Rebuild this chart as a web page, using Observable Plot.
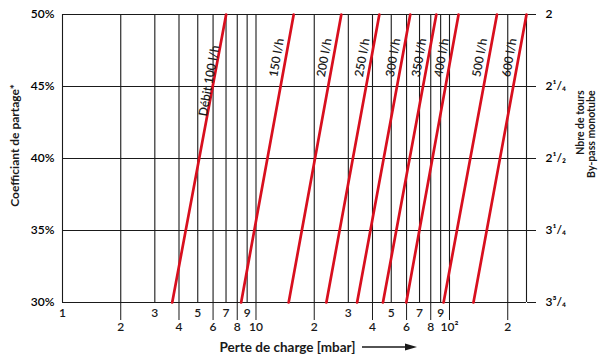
<!DOCTYPE html>
<html>
<head>
<meta charset="utf-8">
<script src="https://cdn.jsdelivr.net/npm/d3@7"></script>
<script src="https://cdn.jsdelivr.net/npm/@observablehq/plot@0.6"></script>
<style>
  html, body { margin: 0; padding: 0; background: #fff; }
  #chart { width: 600px; height: 356px; }
</style>
</head>
<body>
<div id="chart"></div>
<script>
// ---- data ----
const flows = [100, 150, 200, 250, 300, 350, 400, 500, 600];           // l/h
const flowLabels = ["Débit 100 l/h", "150 l/h", "200 l/h", "250 l/h", "300 l/h", "350 l/h", "400 l/h", "500 l/h", "600 l/h"];
const dpAt30 = [3.69, 8.38, 14.75, 23.1, 33.3, 45.3, 59.8, 93.2, 133];   // mbar at 30 %
const dpAt50 = [7.01, 15.66, 27.6, 43.4, 62.7, 85.5, 111.4, 175.9, 250]; // mbar at 50 %

const gridX = [1, 2, 3, 4, 5, 6, 7, 8, 9, 10, 20, 30, 40, 50, 60, 70, 80, 90, 100, 200, 250];
const yTicks = [30, 35, 40, 45, 50];
const yRightLabels = ["3³/₄", "3¹/₄", "2¹/₂", "2¹/₄", "2"];
const oddTicks = [1, 3, 5, 7, 9, 30, 50, 70, 90];
const oddLabels = ["1", "3", "5", "7", "9", "3", "5", "7", "9"];
const evenTicks = [2, 4, 6, 8, 10, 20, 40, 60, 80, 100, 200];
const evenLabels = ["2", "4", "6", "8", "10", "2", "4", "6", "8", "10²", "2"];
const rightTitle = ["Nbre de tours", "By-pass monotube"];

// ---- derived tables ----
const lineRows = flows.flatMap((f, i) => [
  {flow: f, dp: dpAt30[i], pct: 30},
  {flow: f, dp: dpAt50[i], pct: 50}
]);
const labelPct = 47;
const labelRows = flows.map((f, i) => {
  const t = (labelPct - 30) / 20;
  const lx = Math.exp(Math.log(dpAt30[i]) + t * (Math.log(dpAt50[i]) - Math.log(dpAt30[i])));
  return {flow: f, text: flowLabels[i], dp: lx, pct: labelPct - (i === 0 ? 1.6 : 0)};
});
const oddRows = oddTicks.map((v, i) => ({v, label: oddLabels[i]}));
const evenRows = evenTicks.map((v, i) => ({v, label: evenLabels[i]}));

const FONT = "Lato, 'Open Sans', sans-serif";
const RED = "#d80f1e";
const INK = "#1a1a1a";

const svg = Plot.plot({
  width: 600,
  height: 356,
  marginLeft: 62,
  marginRight: 74,
  marginTop: 14,
  marginBottom: 54,
  style: {fontFamily: FONT, fontSize: "12px", background: "#fff", overflow: "visible"},
  x: {type: "log", domain: [1, 250]},
  y: {domain: [30, 50]},
  marks: [
    Plot.ruleX(gridX, {stroke: INK, strokeWidth: 1.1}),
    Plot.ruleY(yTicks, {stroke: INK, strokeWidth: 1.1}),
    Plot.axisY({anchor: "left", ticks: yTicks, tickSize: 0, tickPadding: 8,
      tickFormat: d => d + "%", label: null, fontWeight: 600, fontSize: 12}),
    Plot.axisY({anchor: "right", ticks: yTicks, tickSize: 9, tickPadding: 10,
      tickFormat: d => yRightLabels[yTicks.indexOf(d)], label: null, stroke: INK,
      fontWeight: 600, fontSize: 12}),
    // long ticks below the frame for the second label row
    Plot.axisX({anchor: "bottom", ticks: evenTicks, tickSize: 18, text: null,
      label: null, stroke: INK}),
    // staggered tick labels
    Plot.text(oddRows, {x: "v", text: "label", frameAnchor: "bottom", lineAnchor: "middle",
      textAnchor: "middle", dy: 11, fontWeight: 600, fontSize: 12, fill: INK}),
    Plot.text(evenRows, {x: "v", text: "label", frameAnchor: "bottom", lineAnchor: "middle",
      textAnchor: "middle", dy: 25, fontWeight: 600, fontSize: 12, fill: INK}),
    Plot.line(lineRows, {x: "dp", y: "pct", z: "flow", stroke: RED, strokeWidth: 2.7}),
    Plot.text(labelRows, {x: "dp", y: "pct", text: "text", rotate: -80, dx: -9,
      fontSize: 12, fontWeight: 600, fill: INK}),
    Plot.text(["Coefficiant de partage*"], {frameAnchor: "middle", text: d => d, rotate: -90,
      textAnchor: "middle", lineAnchor: "middle",
      dx: -279, dy: -13, fontWeight: 700, fontSize: 12, fill: INK}),
    Plot.text([rightTitle[0]], {frameAnchor: "middle", text: d => d, rotate: -90,
      textAnchor: "end", lineAnchor: "middle", dx: 286, dy: -68,
      fontWeight: 700, fontSize: 10.5, fill: INK}),
    Plot.text([rightTitle[1]], {frameAnchor: "middle", text: d => d, rotate: -90,
      textAnchor: "end", lineAnchor: "middle", dx: 297, dy: -68,
      fontWeight: 700, fontSize: 10.5, fill: INK}),
    Plot.text(["Perte de charge [mbar]"], {frameAnchor: "bottom", text: d => d,
      textAnchor: "middle", lineAnchor: "middle",
      dx: -7, dy: 45, fontWeight: 700, fontSize: 13.5, fill: INK})
  ]
});

// direction arrow next to the x-axis title
const g = d3.select(svg).append("g").attr("fill", INK).attr("stroke", INK);
g.append("line").attr("x1", 362).attr("x2", 406).attr("y1", 347).attr("y2", 347).attr("stroke-width", 1.3);
g.append("path").attr("d", "M405,343.5 L417,347 L405,350.5 Z").attr("stroke", "none");

document.getElementById("chart").appendChild(svg);
</script>
</body>
</html>
